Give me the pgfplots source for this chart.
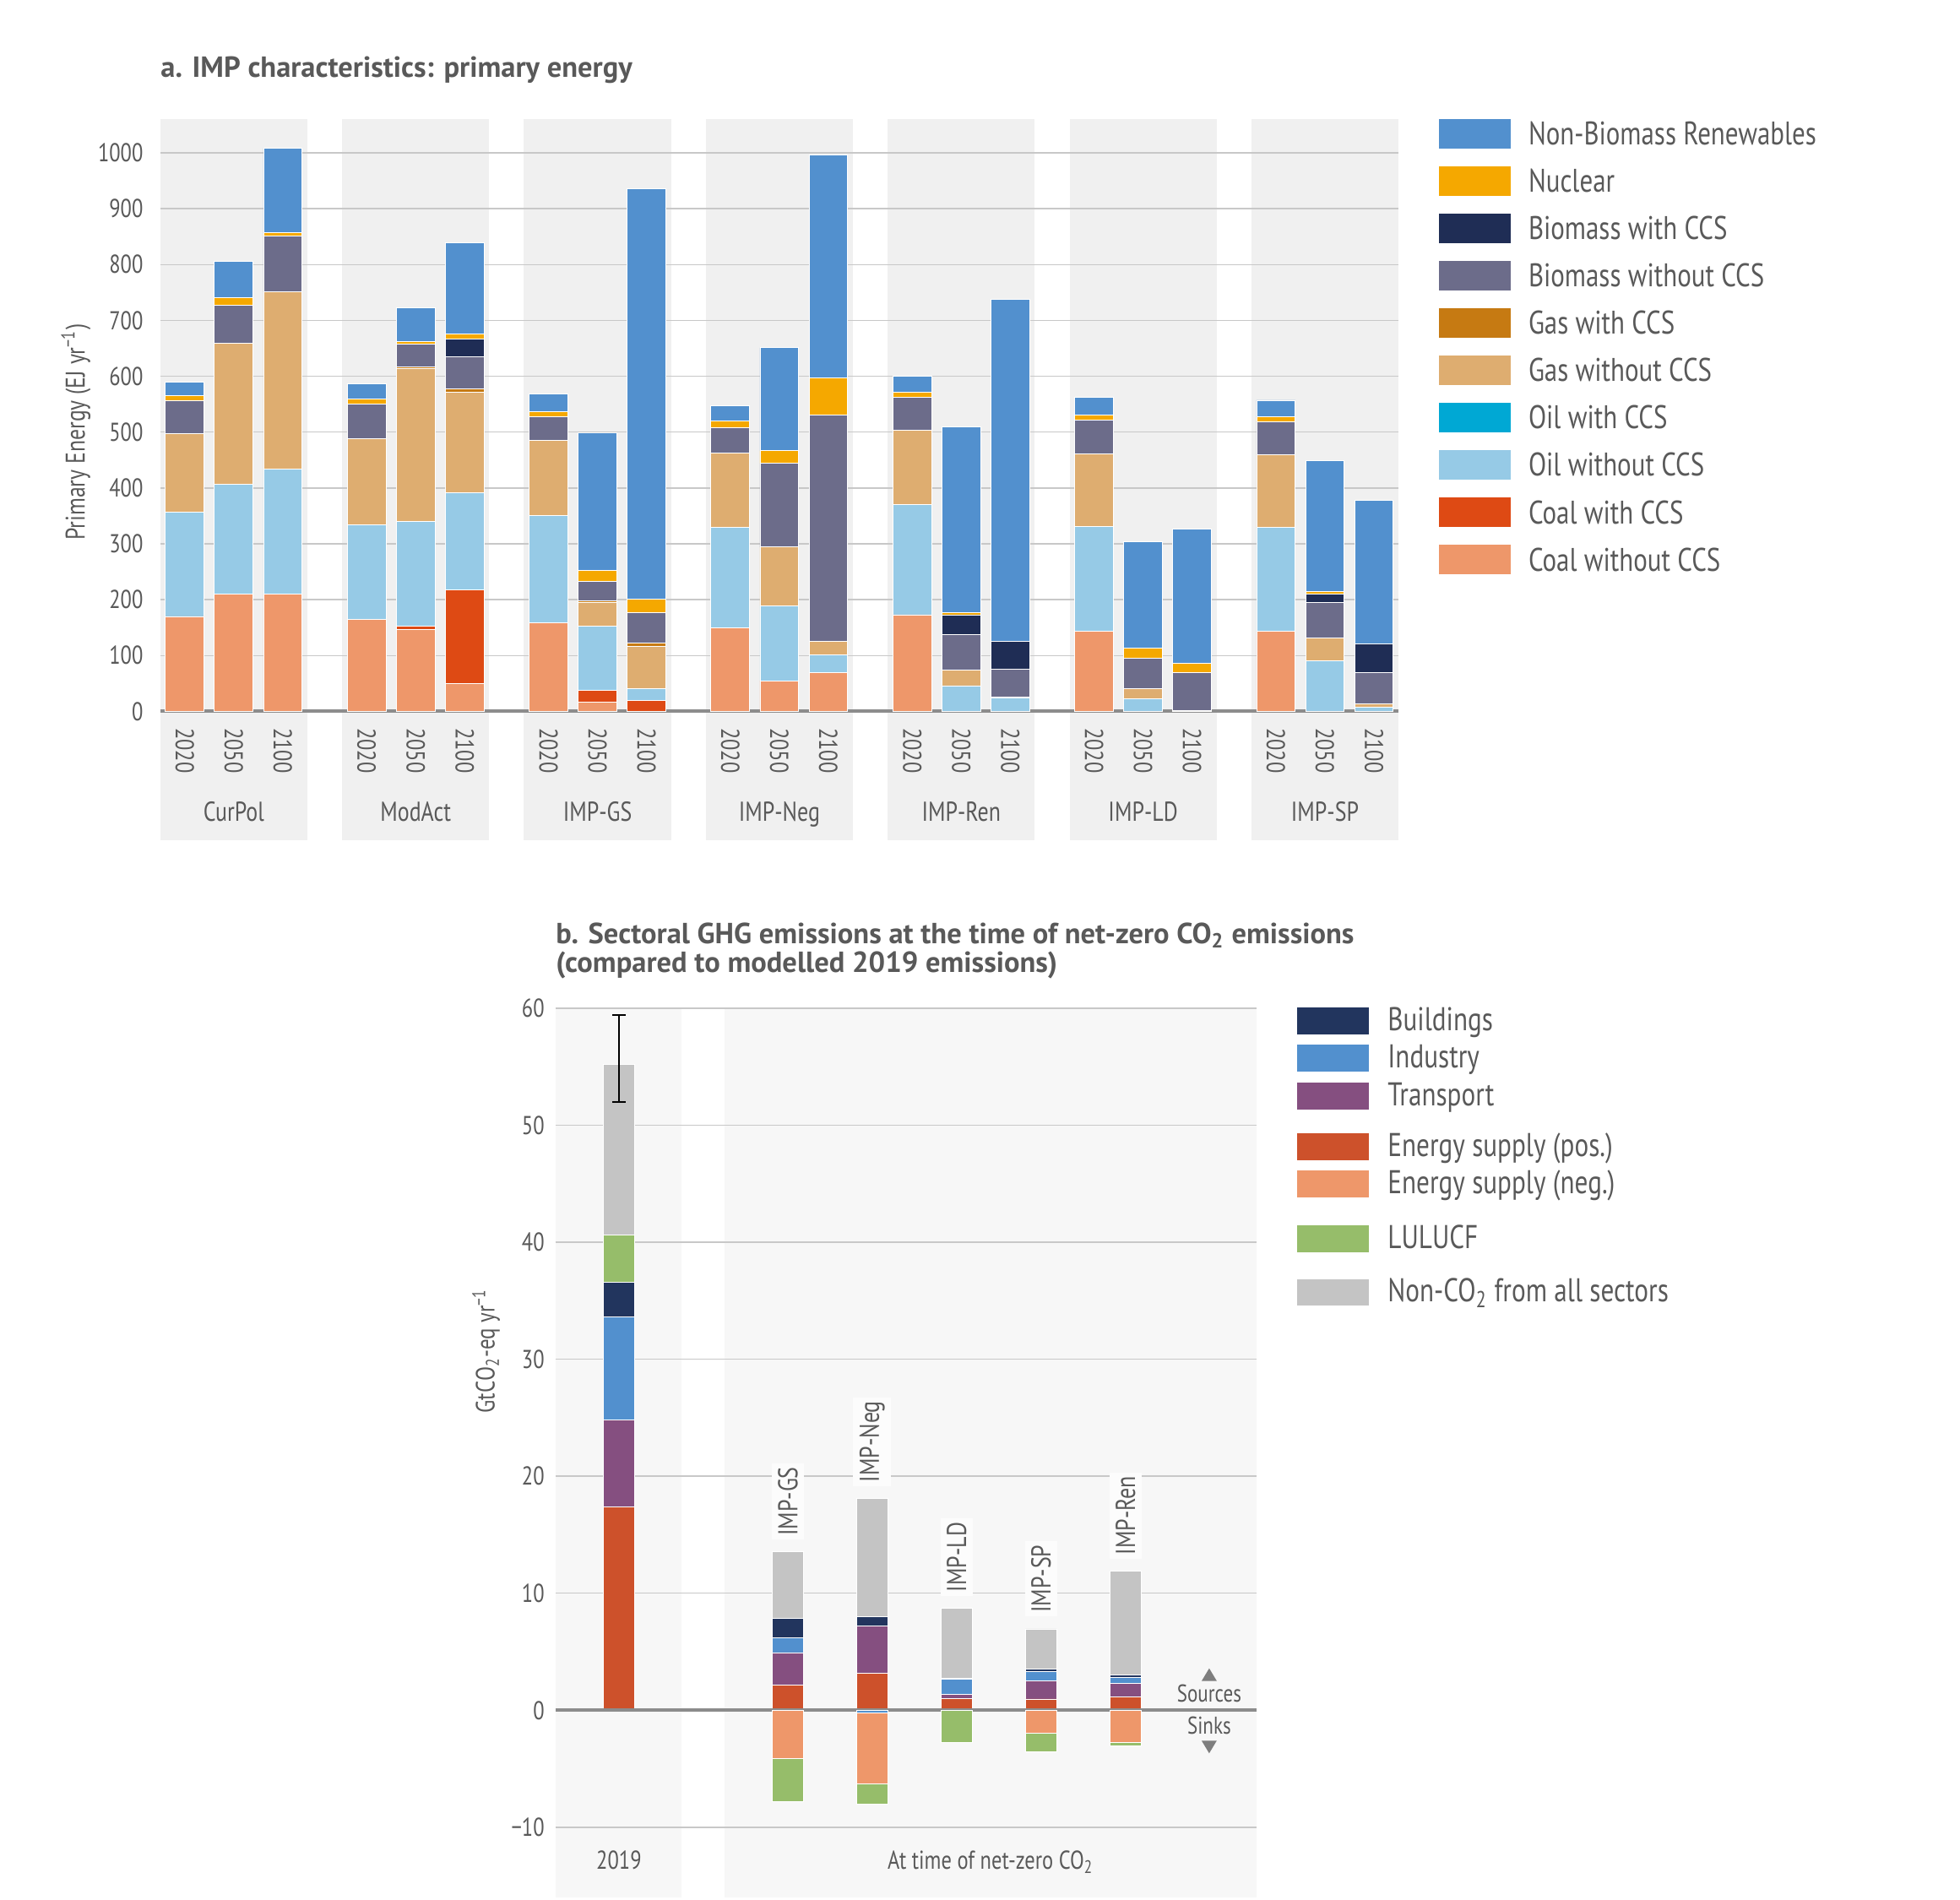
\documentclass[border=0pt]{standalone}
\usepackage{pgfplots}
\pgfplotsset{compat=1.18}
\usepackage{pgfplotstable}
\usepackage{fontspec}
\setmainfont{PT Sans}[FakeStretch=0.8]
\newfontfamily\titlefont{PT Sans}

\definecolor{txt}{HTML}{595959}
\definecolor{bgA}{HTML}{F0F0F0}
\definecolor{bgB}{HTML}{F7F7F7}
\definecolor{gridc}{HTML}{C8C8C8}
\definecolor{zeroc}{HTML}{8C8C8C}
\definecolor{labbg}{HTML}{FCFCFC}
% panel a
\definecolor{ren}{HTML}{5290CE}
\definecolor{nuc}{HTML}{F5A800}
\definecolor{bioccs}{HTML}{1F2D55}
\definecolor{bio}{HTML}{6C6C8A}
\definecolor{gasccs}{HTML}{C67A12}
\definecolor{gas}{HTML}{DEAD70}
\definecolor{oilccs}{HTML}{00A8D4}
\definecolor{oil}{HTML}{96CAE6}
\definecolor{coalccs}{HTML}{DE4A14}
\definecolor{coal}{HTML}{EE976A}
% panel b
\definecolor{bld}{HTML}{22355E}
\definecolor{ind}{HTML}{5290CE}
\definecolor{trn}{HTML}{854F80}
\definecolor{esp}{HTML}{CD512B}
\definecolor{esn}{HTML}{EE976A}
\definecolor{lul}{HTML}{96BD6A}
\definecolor{nco}{HTML}{C4C4C4}

\newcommand{\fs}[1]{\fontsize{#1}{1.2\dimexpr#1pt\relax}\selectfont}

% primary energy, EJ/yr; x = group*3.71 + (0,1,2) for 2020, 2050, 2100
\pgfplotstableread{
x     coal coalccs oil oilccs gas gasccs bio bioccs nuc ren
0     170  0       187 0      141 0      58  0      9   24
1     210  0       197 0      252 0      68  0      14  65
2     210  0       224 0      317 0      100 0      6   151
3.71  164  0       170 0      154 0      62  0      10  27
4.71  146  6       188 0      274 3      41  0      4   61
5.71  50   167     175 0      179 6      58  32     9   163
7.42  159  0       191 0      135 0      43  0      9   31
8.42  17   21      115 0      42  3      35  0      20  246
9.42  0    19      22  0      76  5      55  0      24  735
11.13 149  0       181 0      132 0      46  0      12  27
12.13 55   0       134 0      105 0      150 0      23  184
13.13 70   0       31  0      25  0      405 0      66  399
14.84 173  0       197 0      133 0      59  0      9   29
15.84 0    0       46  0      28  0      64  35     4   333
16.84 0    0       24  0      2   0      49  50     0   612
18.55 143  0       188 0      130 0      60  0      9   33
19.55 0    0       22  0      19  0      54  0      18  191
20.55 0    0       2   0      0   0      67  0      17  241
22.26 143  0       186 0      131 0      59  0      8   30
23.26 0    0       90  0      41  0      64  15     4   235
24.26 0    0       8   0      5   0      56  52     0   257
}\energy

% sectoral emissions, GtCO2-eq/yr; x: 0 = 2019, 2..6 = IMP-GS, -Neg, -LD, -SP, -Ren
\pgfplotstableread{
x esp  trn  ind  bld  lulp nco   indn  esn   luln
0 17.4 7.4  8.8  3.0  4.0  14.6  0     0     0
2 2.14 2.79 1.25 1.66 0    5.68  0     -4.16 -3.68
3 3.13 4.04 0    0.86 0    10.07 -0.24 -6.04 -1.75
4 1.01 0.34 1.30 0.09 0    5.99  0     0     -2.72
5 0.96 1.52 0.86 0.20 0    3.41  0     -1.95 -1.59
6 1.15 1.18 0.48 0.24 0    8.83  0     -2.74 -0.31
}\sectors

% modelled 2019 total and its range
\pgfplotstableread{
x y    ep  em
0 55.2 4.2 3.2
}\total

\pgfplotsset{
  geomA/.style={at={(63.27pt,-280.8pt)}, anchor=south west,
    scale only axis, width=488.73pt, height=233.93pt,
    xmin=-0.5, xmax=24.76, ymin=0, ymax=1061, clip=false},
  geomB/.style={at={(219.27pt,-749pt)}, anchor=south west,
    scale only axis, width=276.63pt, height=351.07pt,
    xmin=-0.751, xmax=7.548, ymin=-16, ymax=60, clip=false},
}

\begin{document}
\begin{tikzpicture}
\path[use as bounding box] (0,0) rectangle (773.67pt,-749.67pt);

% ---------------- panel a ----------------
\node[anchor=base west, font=\titlefont\bfseries\fs{11.5}, text=txt, inner sep=0pt]
  at (63.27pt,-30.57pt) {a. IMP characteristics: primary energy};

% grey group panels
\begin{axis}[geomA, hide axis]
\fill[bgA] (axis cs:-0.5,-230) rectangle (axis cs:2.5,1061);
\fill[bgA] (axis cs:3.21,-230) rectangle (axis cs:6.21,1061);
\fill[bgA] (axis cs:6.92,-230) rectangle (axis cs:9.92,1061);
\fill[bgA] (axis cs:10.63,-230) rectangle (axis cs:13.63,1061);
\fill[bgA] (axis cs:14.34,-230) rectangle (axis cs:17.34,1061);
\fill[bgA] (axis cs:18.05,-230) rectangle (axis cs:21.05,1061);
\fill[bgA] (axis cs:21.76,-230) rectangle (axis cs:24.76,1061);
\end{axis}

\begin{axis}[
  geomA,
  ybar stacked, bar width=0.79,
  every axis plot/.append style={draw=white, line width=0.3pt},
  axis line style={draw=none}, tick style={draw=none},
  ytick={0,100,...,1000},
  yticklabels={0,100,200,300,400,500,600,700,800,900,1000},
  ymajorgrids, grid style={gridc, line width=0.5pt},
  yticklabel style={anchor=east, inner sep=0pt, xshift=-6.6pt, text=txt, font=\fs{10.2}},
  xtick={0,1,2,3.71,4.71,5.71,7.42,8.42,9.42,11.13,12.13,13.13,14.84,15.84,16.84,18.55,19.55,20.55,22.26,23.26,24.26},
  xticklabels={2020,2050,2100,2020,2050,2100,2020,2050,2100,2020,2050,2100,2020,2050,2100,2020,2050,2100,2020,2050,2100},
  xticklabel style={yshift=-6.4pt, rotate=-90, anchor=west, inner sep=0pt, text=txt, font=\fs{10.2}},
]
\addplot[fill=coal]    table[x=x,y=coal]    {\energy};
\addplot[fill=coalccs] table[x=x,y=coalccs] {\energy};
\addplot[fill=oil]     table[x=x,y=oil]     {\energy};
\addplot[fill=oilccs]  table[x=x,y=oilccs]  {\energy};
\addplot[fill=gas]     table[x=x,y=gas]     {\energy};
\addplot[fill=gasccs]  table[x=x,y=gasccs]  {\energy};
\addplot[fill=bio]     table[x=x,y=bio]     {\energy};
\addplot[fill=bioccs]  table[x=x,y=bioccs]  {\energy};
\addplot[fill=nuc]     table[x=x,y=nuc]     {\energy};
\addplot[fill=ren]     table[x=x,y=ren]     {\energy};

\draw[zeroc, line width=1.33pt] (axis cs:-0.5,0) -- (axis cs:24.76,0);

\node[rotate=90, text=txt, font=\fs{10.7}] at ([xshift=-33.3pt]axis cs:-0.5,500)
  {Primary Energy (EJ yr\textsuperscript{−1})};

\node[anchor=base, text=txt, font=\fs{10.8}] at (axis cs:1,-196) {CurPol};
\node[anchor=base, text=txt, font=\fs{10.8}] at (axis cs:4.71,-196) {ModAct};
\node[anchor=base, text=txt, font=\fs{10.8}] at (axis cs:8.42,-196) {IMP-GS};
\node[anchor=base, text=txt, font=\fs{10.8}] at (axis cs:12.13,-196) {IMP-Neg};
\node[anchor=base, text=txt, font=\fs{10.8}] at (axis cs:15.84,-196) {IMP-Ren};
\node[anchor=base, text=txt, font=\fs{10.8}] at (axis cs:19.55,-196) {IMP-LD};
\node[anchor=base, text=txt, font=\fs{10.8}] at (axis cs:23.26,-196) {IMP-SP};
\end{axis}

% legend of panel a
\fill[ren]     (568.07pt,-46.84pt)  rectangle (596.37pt,-58.50pt);
\fill[nuc]     (568.07pt,-65.53pt)  rectangle (596.37pt,-77.19pt);
\fill[bioccs]  (568.07pt,-84.21pt)  rectangle (596.37pt,-95.87pt);
\fill[bio]     (568.07pt,-102.90pt) rectangle (596.37pt,-114.56pt);
\fill[gasccs]  (568.07pt,-121.59pt) rectangle (596.37pt,-133.25pt);
\fill[gas]     (568.07pt,-140.28pt) rectangle (596.37pt,-151.94pt);
\fill[oilccs]  (568.07pt,-158.96pt) rectangle (596.37pt,-170.62pt);
\fill[oil]     (568.07pt,-177.65pt) rectangle (596.37pt,-189.31pt);
\fill[coalccs] (568.07pt,-196.34pt) rectangle (596.37pt,-208.00pt);
\fill[coal]    (568.07pt,-215.02pt) rectangle (596.37pt,-226.68pt);
\begin{scope}[every node/.style={anchor=base west, inner sep=0pt, text=txt, font=\fs{12.9}}]
\node at (603.13pt,-57.17pt)  {Non-Biomass Renewables};
\node at (603.13pt,-75.86pt)  {Nuclear};
\node at (603.13pt,-94.54pt)  {Biomass with CCS};
\node at (603.13pt,-113.23pt) {Biomass without CCS};
\node at (603.13pt,-131.92pt) {Gas with CCS};
\node at (603.13pt,-150.61pt) {Gas without CCS};
\node at (603.13pt,-169.29pt) {Oil with CCS};
\node at (603.13pt,-187.98pt) {Oil without CCS};
\node at (603.13pt,-206.67pt) {Coal with CCS};
\node at (603.13pt,-225.35pt) {Coal without CCS};
\end{scope}

% ---------------- panel b ----------------
\node[anchor=base west, font=\titlefont\bfseries\fs{11.5}, text=txt, inner sep=0pt]
  at (219.27pt,-372.43pt) {b. Sectoral GHG emissions at the time of net-zero CO\textsubscript{2} emissions};
\node[anchor=base west, font=\titlefont\bfseries\fs{11.5}, text=txt, inner sep=0pt]
  at (219.27pt,-383.9pt) {(compared to modelled 2019 emissions)};

\begin{axis}[geomB, hide axis]
\fill[bgB] (axis cs:-0.751,-16) rectangle (axis cs:0.744,60);
\fill[bgB] (axis cs:1.249,-16) rectangle (axis cs:7.548,60);
\end{axis}

\begin{axis}[
  geomB,
  ybar stacked, bar width=0.365,
  every axis plot/.append style={draw=white, line width=0.3pt},
  axis line style={draw=none}, tick style={draw=none},
  xtick=\empty,
  ytick={-10,0,...,60},
  yticklabels={−10,0,10,20,30,40,50,60},
  ymajorgrids, grid style={gridc, line width=0.5pt},
  yticklabel style={anchor=east, inner sep=0pt, xshift=-4.2pt, text=txt, font=\fs{10.2}},
]
\addplot[fill=esp] table[x=x,y=esp]  {\sectors};
\addplot[fill=trn] table[x=x,y=trn]  {\sectors};
\addplot[fill=ind] table[x=x,y=ind]  {\sectors};
\addplot[fill=bld] table[x=x,y=bld]  {\sectors};
\addplot[fill=lul] table[x=x,y=lulp] {\sectors};
\addplot[fill=nco] table[x=x,y=nco]  {\sectors};

\node[anchor=base, text=txt, font=\fs{10.2}] at (axis cs:0,-13.6) {2019};
\node[anchor=base, text=txt, font=\fs{10.2}] at (axis cs:4.4,-13.6) {At time of net-zero CO\textsubscript{2}};

\node[rotate=90, text=txt, font=\fs{10.4}] at ([xshift=-27.4pt]axis cs:-0.751,30.7)
  {GtCO\textsubscript{2}-eq yr\textsuperscript{−1}};

\node[rotate=90, anchor=west, fill=labbg, inner xsep=1.5pt, inner ysep=2.5pt, text=txt, font=\fs{10.8}]
  at ([yshift=4.7pt]axis cs:2,13.52) {IMP-GS};
\node[rotate=90, anchor=west, fill=labbg, inner xsep=1.5pt, inner ysep=2.5pt, text=txt, font=\fs{10.8}]
  at ([yshift=4.7pt]axis cs:3,18.1) {IMP-Neg};
\node[rotate=90, anchor=west, fill=labbg, inner xsep=1.5pt, inner ysep=2.5pt, text=txt, font=\fs{10.8}]
  at ([yshift=4.7pt]axis cs:4,8.73) {IMP-LD};
\node[rotate=90, anchor=west, fill=labbg, inner xsep=1.5pt, inner ysep=2.5pt, text=txt, font=\fs{10.8}]
  at ([yshift=4.7pt]axis cs:5,6.95) {IMP-SP};
\node[rotate=90, anchor=west, fill=labbg, inner xsep=1.5pt, inner ysep=2.5pt, text=txt, font=\fs{10.8}]
  at ([yshift=4.7pt]axis cs:6,11.88) {IMP-Ren};
\end{axis}

\begin{axis}[
  geomB, hide axis,
  ybar stacked, bar width=0.365,
  every axis plot/.append style={draw=white, line width=0.3pt},
]
\addplot[fill=ind] table[x=x,y=indn] {\sectors};
\addplot[fill=esn] table[x=x,y=esn]  {\sectors};
\addplot[fill=lul] table[x=x,y=luln] {\sectors};

\draw[zeroc, line width=1.33pt] (axis cs:-0.751,0) -- (axis cs:7.548,0);

\fill[zeroc!90!black] (axis cs:6.99,3.04) +(-3pt,-2.5pt) -- +(3pt,-2.5pt) -- +(0pt,2.5pt) -- cycle;
\fill[zeroc!90!black] (axis cs:6.99,-3.14) +(-3pt,2.5pt) -- +(3pt,2.5pt) -- +(0pt,-2.5pt) -- cycle;
\node[text=txt, font=\fs{9.6}] at (axis cs:6.99,1.4) {Sources};
\node[text=txt, font=\fs{9.6}] at (axis cs:6.99,-1.32) {Sinks};
\end{axis}

% range of the modelled 2019 total
\begin{axis}[geomB, hide axis]
\addplot[black, line width=0.6pt, mark=none,
  error bars/.cd, y dir=both, y explicit,
  error bar style={black, line width=0.6pt},
  error mark=|, error mark options={black, line width=0.6pt, mark size=2.6pt}]
  table[x=x, y=y, y error plus=ep, y error minus=em] {\total};
\end{axis}

% legend of panel b
\fill[bld] (512.03pt,-397.80pt) rectangle (540.37pt,-408.34pt);
\fill[ind] (512.03pt,-412.43pt) rectangle (540.37pt,-422.97pt);
\fill[trn] (512.03pt,-427.40pt) rectangle (540.37pt,-437.94pt);
\fill[esp] (512.03pt,-447.30pt) rectangle (540.37pt,-457.84pt);
\fill[esn] (512.03pt,-462.06pt) rectangle (540.37pt,-472.60pt);
\fill[lul] (512.03pt,-483.66pt) rectangle (540.37pt,-494.20pt);
\fill[nco] (512.03pt,-504.93pt) rectangle (540.37pt,-515.47pt);
\begin{scope}[every node/.style={anchor=base west, inner sep=0pt, text=txt, font=\fs{13}}]
\node at (547.6pt,-406.84pt) {Buildings};
\node at (547.6pt,-421.47pt) {Industry};
\node at (547.6pt,-436.44pt) {Transport};
\node at (547.6pt,-456.34pt) {Energy supply (pos.)};
\node at (547.6pt,-471.10pt) {Energy supply (neg.)};
\node at (547.6pt,-492.70pt) {LULUCF};
\node at (547.6pt,-513.97pt) {Non-CO\textsubscript{2} from all sectors};
\end{scope}
\end{tikzpicture}
\end{document}
